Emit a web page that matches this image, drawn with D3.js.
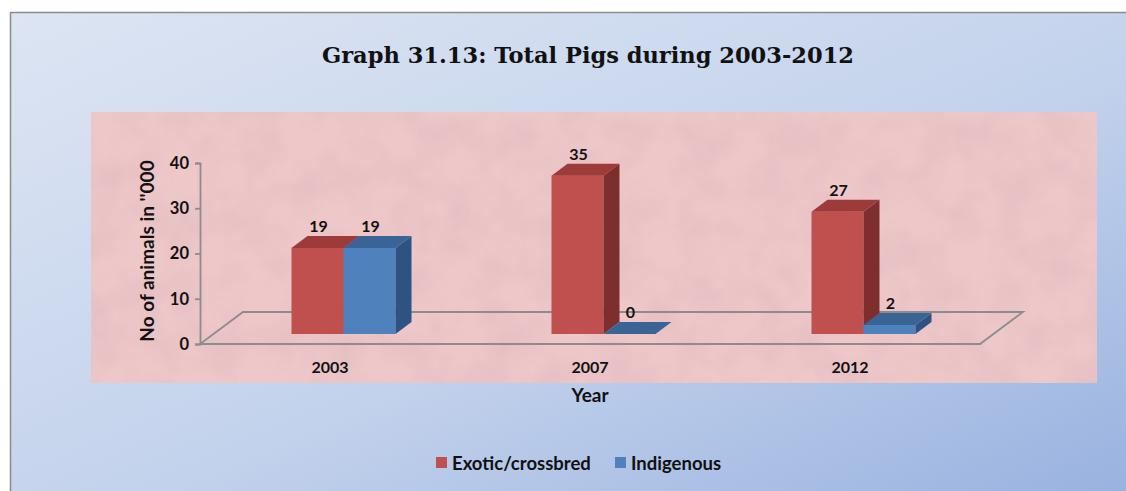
<!DOCTYPE html>
<html>
<head>
<meta charset="utf-8">
<script src="https://cdn.jsdelivr.net/npm/d3@7"></script>
<style>
  body { margin: 0; background: #fff; }
  svg { display: block; }
</style>
</head>
<body>
<svg id="chart" width="1126" height="491"></svg>
<script>
const years = ['2003', '2007', '2012'];
const seriesNames = ['Exotic/crossbred', 'Indigenous'];
const exotic = [19, 35, 27];
const indigenous = [19, 0, 2];
const yTicks = [0, 10, 20, 30, 40];

const colors = {
  'Exotic/crossbred': { front: '#c0504d', top: '#9c3b39', side: '#7e2e2c' },
  'Indigenous': { front: '#4f81bd', top: '#3a6496', side: '#2e5383' }
};

const svg = d3.select('#chart');
const defs = svg.append('defs');

const bg = defs.append('linearGradient').attr('id', 'bg')
  .attr('x1', '0%').attr('y1', '0%').attr('x2', '100%').attr('y2', '100%');
bg.append('stop').attr('offset', '0%').attr('stop-color', '#dde5f3');
bg.append('stop').attr('offset', '55%').attr('stop-color', '#c3d2ec');
bg.append('stop').attr('offset', '100%').attr('stop-color', '#97b1df');

const noise = defs.append('filter').attr('id', 'noise')
  .attr('x', 0).attr('y', 0).attr('width', '100%').attr('height', '100%');
noise.append('feTurbulence').attr('type', 'fractalNoise')
  .attr('baseFrequency', '0.025').attr('numOctaves', 4).attr('seed', 7);
noise.append('feColorMatrix').attr('type', 'matrix')
  .attr('values', '0 0 0 0 0.6  0 0 0 0 0.4  0 0 0 0 0.42  0 0 0 -1.6 1.05');

// page background and frame
svg.append('rect').attr('x', 10).attr('y', 12).attr('width', 1130).attr('height', 490)
  .attr('fill', 'url(#bg)');
svg.append('path').attr('d', 'M10.5,491V12.5H1126')
  .attr('fill', 'none').attr('stroke', '#8a8a8a').attr('stroke-width', 1.5);

// textured plot area
svg.append('rect').attr('x', 91).attr('y', 112).attr('width', 1006).attr('height', 271)
  .attr('fill', '#eec7c9');
svg.append('rect').attr('x', 91).attr('y', 112).attr('width', 1006).attr('height', 271)
  .attr('filter', 'url(#noise)').attr('opacity', 0.3);

svg.append('text')
  .attr('x', 588).attr('y', 63)
  .attr('text-anchor', 'middle')
  .attr('font-family', 'DejaVu Serif, serif')
  .attr('font-weight', 'bold')
  .attr('font-size', 22)
  .attr('textLength', 532)
  .attr('lengthAdjust', 'spacingAndGlyphs')
  .attr('fill', '#111')
  .text('Graph 31.13: Total Pigs during 2003-2012');

const x = d3.scaleBand().domain(years).range([200, 980]);
const y = d3.scaleLinear().domain([0, 40]).range([344, 163]);
const barW = 52;
const xs = d3.scaleBand().domain(seriesNames).range([0, barW * 2]);
const floorD = [43, 32];
const barD = [16, 12];
const shift = [(floorD[0] - barD[0]) / 2, (floorD[1] - barD[1]) / 2];

// floor
const fx0 = x.range()[0], fx1 = x.range()[1], fy = y(0);
svg.append('path')
  .attr('d', `M${fx0},${fy}L${fx1},${fy}L${fx1 + floorD[0]},${fy - floorD[1]}L${fx0 + floorD[0]},${fy - floorD[1]}Z`)
  .attr('fill', 'none').attr('stroke', '#8c8c8c').attr('stroke-width', 1.8);

// y axis
const yAxis = svg.append('g')
  .attr('transform', `translate(${fx0},0)`)
  .call(d3.axisLeft(y).tickValues(yTicks).tickSize(5).tickPadding(6));
yAxis.select('.domain').attr('stroke', '#8c8c8c').attr('stroke-width', 1.8);
yAxis.selectAll('.tick line').attr('stroke', '#8c8c8c').attr('stroke-width', 1.8);
yAxis.selectAll('.tick text')
  .attr('font-family', 'Lato, sans-serif').attr('font-weight', 'bold')
  .attr('font-size', 16.5).attr('fill', '#111');

svg.append('text')
  .attr('transform', 'translate(154,251) rotate(-90)')
  .attr('text-anchor', 'middle')
  .attr('font-family', 'Lato, sans-serif').attr('font-weight', 'bold')
  .attr('font-size', 19).attr('fill', '#111')
  .text("No of animals in ''000");

// category labels
svg.selectAll('.cat').data(years).enter().append('text')
  .attr('class', 'cat')
  .attr('x', d => x(d) + x.bandwidth() / 2)
  .attr('y', 373)
  .attr('text-anchor', 'middle')
  .attr('font-family', 'Lato, sans-serif').attr('font-weight', 'bold')
  .attr('font-size', 16).attr('fill', '#111')
  .text(d => d);

svg.append('text')
  .attr('x', 590).attr('y', 402)
  .attr('text-anchor', 'middle')
  .attr('font-family', 'Lato, sans-serif').attr('font-weight', 'bold')
  .attr('font-size', 19).attr('fill', '#111')
  .text('Year');

// bars
const bars = [];
years.forEach((yr, i) => {
  bars.push({ year: yr, s: seriesNames[0], v: exotic[i] });
  bars.push({ year: yr, s: seriesNames[1], v: indigenous[i] });
});

const g = svg.append('g');
bars.forEach(d => {
  const x0 = x(d.year) + (x.bandwidth() - barW * 2) / 2 + xs(d.s) + shift[0];
  const base = y(0) - shift[1];
  const top = y(d.v) - shift[1];
  const c = colors[d.s];
  const [dx, dy] = barD;
  if (top < base) {
    g.append('rect').attr('x', x0).attr('y', top).attr('width', barW).attr('height', base - top)
      .attr('fill', c.front);
    g.append('path')
      .attr('d', `M${x0 + barW},${top}L${x0 + barW + dx},${top - dy}L${x0 + barW + dx},${base - dy}L${x0 + barW},${base}Z`)
      .attr('fill', c.side);
  }
  g.append('path')
    .attr('d', `M${x0},${top}L${x0 + dx},${top - dy}L${x0 + barW + dx},${top - dy}L${x0 + barW},${top}Z`)
    .attr('fill', c.top);
  g.append('text')
    .attr('x', x0 + barW / 2 + 1)
    .attr('y', top - dy - 4)
    .attr('text-anchor', 'middle')
    .attr('font-family', 'Lato, sans-serif').attr('font-weight', 'bold')
    .attr('font-size', 16).attr('fill', '#111')
    .text(d.v);
});

// legend
const legend = svg.append('g');
const legX = [436, 615];
seriesNames.forEach((s, i) => {
  legend.append('rect').attr('x', legX[i]).attr('y', 457).attr('width', 11).attr('height', 11)
    .attr('fill', colors[s].front);
  legend.append('text').attr('x', legX[i] + 16).attr('y', 469.5)
    .attr('font-family', 'Lato, sans-serif').attr('font-weight', 'bold')
    .attr('font-size', 18.5).attr('fill', '#111')
    .text(s);
});
</script>
</body>
</html>
